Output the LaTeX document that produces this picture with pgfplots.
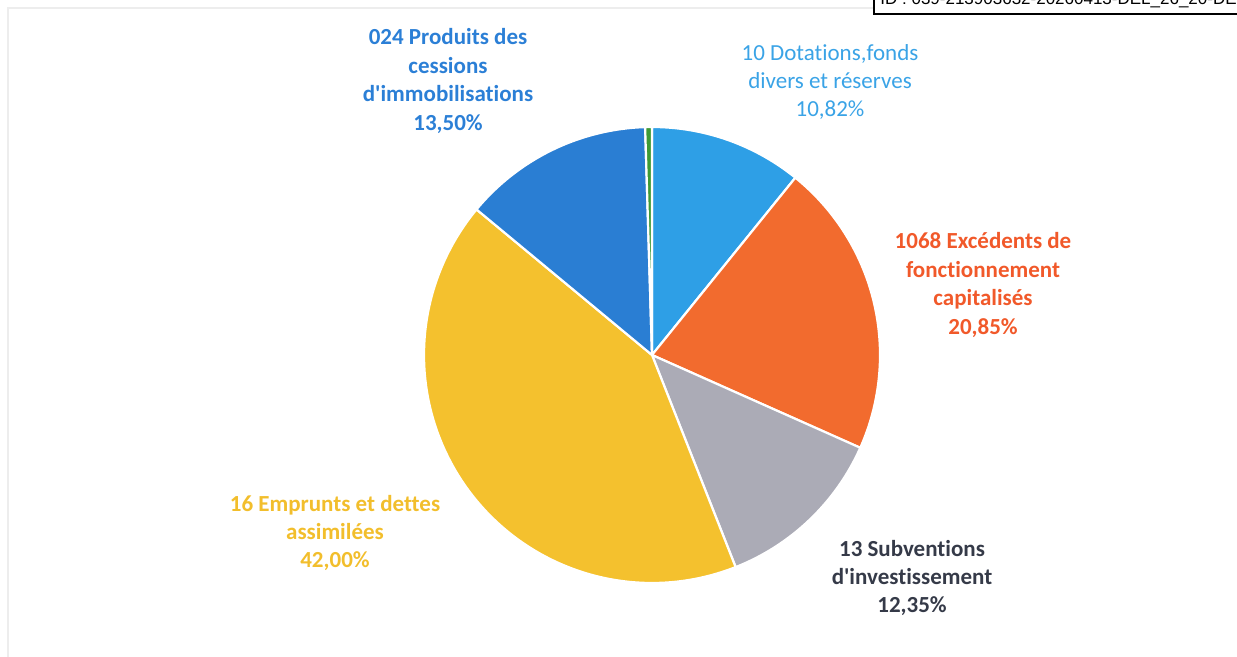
\documentclass[border=0pt]{standalone}
\usepackage{pgfplots}
\pgfplotsset{compat=1.18}
\usepackage{pgfplotstable}
\usepackage{fontspec}
\setmainfont{Carlito}[Ligatures={NoCommon,TeXOff}]
\newfontfamily\idfont{Liberation Sans}

\definecolor{cLBlue}{HTML}{2E9FE6}
\definecolor{cOrange}{HTML}{F26B2E}
\definecolor{cGray}{HTML}{ABABB6}
\definecolor{cGold}{HTML}{F4C12E}
\definecolor{cBlue}{HTML}{2A7ED3}
\definecolor{cGreen}{HTML}{3E9A35}
\definecolor{tLBlue}{HTML}{3AA3E6}
\definecolor{tOrange}{HTML}{F1592A}
\definecolor{tNavy}{HTML}{353A48}
\definecolor{tGold}{HTML}{F2BE2C}
\definecolor{tBlue}{HTML}{2B7FD6}

% shares in percent, clockwise from 12 o'clock
\pgfplotstableread{
idx pct
0 10.82
1 20.85
2 12.35
3 42.00
4 13.50
5 0.48
}\piedata

\pgfmathsetmacro\cx{652}
\pgfmathsetmacro\cy{355}
\pgfmathsetmacro\rr{228}
% cumulative angles
\xdef\angstart{90}
\foreach \i in {0,...,5}{
  \pgfplotstablegetelem{\i}{pct}\of\piedata
  \pgfmathsetmacro\angend{\angstart-3.6*\pgfplotsretval}
  \expandafter\xdef\csname aS\i\endcsname{\angstart}
  \expandafter\xdef\csname aE\i\endcsname{\angend}
  \xdef\angstart{\angend}
}

\begin{document}
\begin{tikzpicture}
\clip (0,0) rectangle (618.5pt,328.5pt);
\begin{axis}[
  at={(0,0)}, anchor=south west,
  width=618.5pt, height=328.5pt, scale only axis,
  xmin=0, xmax=1237, ymin=0, ymax=657, y dir=reverse,
  hide axis, clip=false,
]
% faint frame
\draw[color=black!7, line width=0.6pt] (axis cs:8,8) rectangle (axis cs:1260,680);

\pgfplotsinvokeforeach{0,...,5}{
  \addplot[fill=\ifcase#1 cLBlue\or cOrange\or cGray\or cGold\or cBlue\or cGreen\fi,
           draw=white, line width=1.1pt, line join=round,
           domain=\csname aE#1\endcsname:\csname aS#1\endcsname, samples=90, variable=\t]
    ({\cx+\rr*cos(\t)},{\cy-\rr*sin(\t)}) -- (axis cs:\cx,\cy) -- cycle;
}

\node[text=tBlue, font=\fontsize{11.5}{14.2}\selectfont\bfseries, align=center]
  at (axis cs:448,81) {024 Produits des\\cessions\\d'immobilisations\\13,50\%};
\node[text=tLBlue, font=\fontsize{11.5}{14.2}\selectfont, align=center]
  at (axis cs:830,82) {10 Dotations,fonds\\divers et réserves\\10,82\%};
\node[text=tOrange, font=\fontsize{11.5}{14.2}\selectfont\bfseries, align=center]
  at (axis cs:983,285) {1068 Excédents de\\fonctionnement\\capitalisés\\20,85\%};
\node[text=tNavy, font=\fontsize{11.5}{14.2}\selectfont\bfseries, align=center]
  at (axis cs:912,578) {13 Subventions\\d'investissement\\12,35\%};
\node[text=tGold, font=\fontsize{11.5}{14.2}\selectfont\bfseries, align=center]
  at (axis cs:335,533) {16 Emprunts et dettes\\assimilées\\42,00\%};

% stamp box at top right
\draw[line width=1.2pt, fill=white] (axis cs:874,-40) rectangle (axis cs:1300,14);
\node[anchor=base west, inner sep=0pt, font=\idfont\fontsize{8.5}{10}\selectfont]
  at (axis cs:880,5) {ID : 039-213903632-20260413-DEL\_26\_20-DE};
\end{axis}
\end{tikzpicture}
\end{document}
